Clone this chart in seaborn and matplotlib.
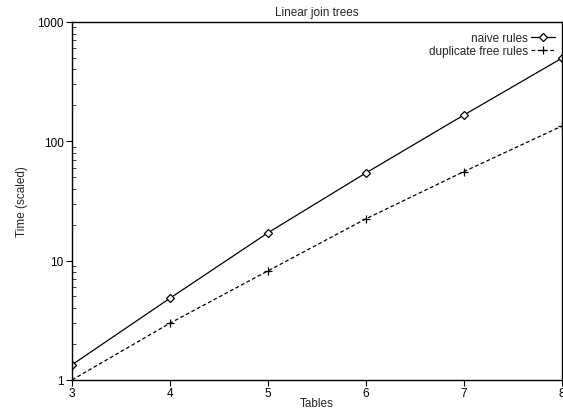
import matplotlib
matplotlib.use("Agg")
import matplotlib.pyplot as plt
import matplotlib.ticker as mticker
import seaborn as sns
import pandas as pd

sns.set_style("white")
plt.rcParams["font.family"] = ["Liberation Sans", "DejaVu Sans"]
plt.rcParams["font.size"] = 8.5

# Data
tables = [3, 4, 5, 6, 7, 8]
naive = [1.34, 4.84, 17.1, 54.3, 166, 497]
dup_free = [1.0, 2.99, 8.2, 22.4, 55.7, 134]

df = pd.DataFrame({
    "Tables": tables * 2,
    "Time": naive + dup_free,
    "rules": ["naive rules"] * len(tables) + ["duplicate free rules"] * len(tables),
})

fig = plt.figure(figsize=(5.63, 4.10), dpi=100)
ax = fig.add_axes([0.128, 0.071, 0.870, 0.873])

sns.lineplot(data=df[df.rules == "naive rules"], x="Tables", y="Time", ax=ax,
             color="black", lw=0.9, marker="D", markersize=4,
             markerfacecolor="white", markeredgecolor="black", markeredgewidth=0.9,
             label="naive rules")
sns.lineplot(data=df[df.rules == "duplicate free rules"], x="Tables", y="Time", ax=ax,
             color="black", lw=0.9, linestyle=(0, (3, 2)), marker="+", markersize=6,
             markeredgecolor="black", markeredgewidth=0.9,
             label="duplicate free rules")

ax.set_yscale("log")
ax.set_ylim(1, 1000)
ax.set_xlim(3, 8)
ax.set_xticks(tables)
ax.yaxis.set_major_formatter(mticker.FuncFormatter(lambda v, p: f"{v:g}"))
ax.yaxis.set_minor_locator(mticker.LogLocator(base=10, subs=range(2, 10)))
ax.yaxis.set_minor_formatter(mticker.NullFormatter())
ax.tick_params(axis="both", which="major", direction="out", length=4, width=0.8,
               left=True, bottom=True, pad=2, colors="black")
ax.tick_params(axis="x", which="major", pad=1)
ax.tick_params(axis="y", which="minor", direction="in", length=3, width=0.6, left=True)

for s in ax.spines.values():
    s.set_color("black")
    s.set_linewidth(1.0)

ax.set_title("Linear join trees", fontsize=8.5, pad=5)
ax.set_xlabel("Tables", labelpad=-1)
ax.set_ylabel("Time (scaled)", labelpad=7)

ax.legend(loc="upper right", bbox_to_anchor=(0.986, 0.972), frameon=False,
          markerfirst=False, handlelength=2.0, handletextpad=0.3,
          labelspacing=0.1, borderpad=0, borderaxespad=0)

fig.savefig("out.png", dpi=100)
